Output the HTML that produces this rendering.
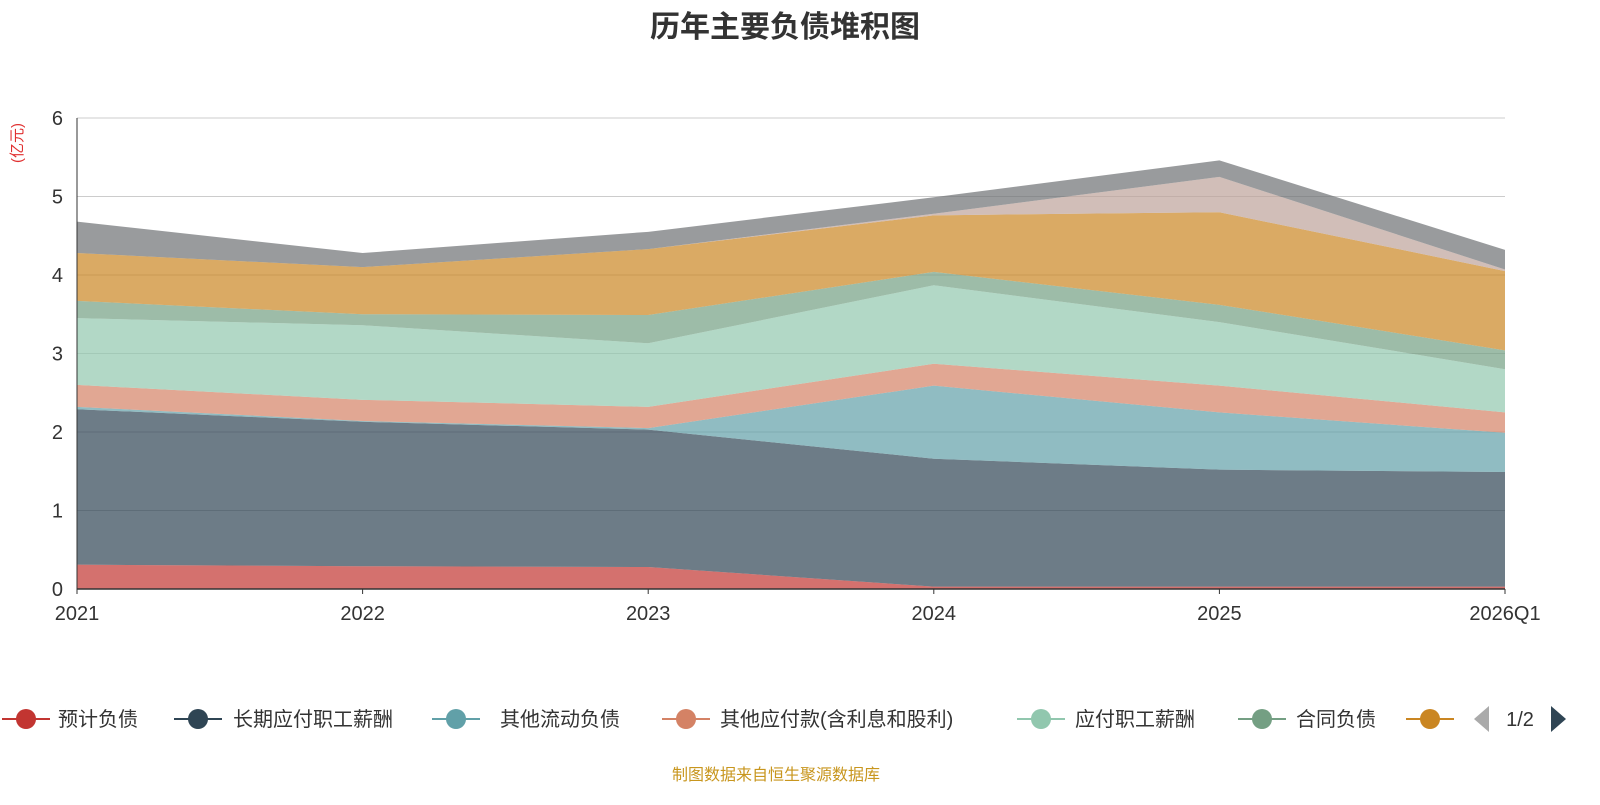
<!DOCTYPE html>
<html><head><meta charset="utf-8">
<style>
html,body{margin:0;padding:0;background:#fff;}
body{width:1600px;height:800px;overflow:hidden;font-family:"Liberation Sans","Noto Sans CJK SC",sans-serif;}
</style></head>
<body>
<svg id="chart" width="1600" height="800" xmlns="http://www.w3.org/2000/svg" font-family="Liberation Sans, Noto Sans CJK SC, sans-serif">
<text x="785" y="37" text-anchor="middle" font-size="30" font-weight="bold" fill="#333">历年主要负债堆积图</text>
<text transform="translate(22,143) rotate(-90)" text-anchor="middle" font-size="15" fill="#e03030">(亿元)</text>
<g id="grid"></g>
<g id="areas"></g>
<g id="axes"></g>
<g id="legend"></g>
<text x="776" y="780" text-anchor="middle" font-size="16" fill="#c8961e">制图数据来自恒生聚源数据库</text>
</svg>
<script>
const categories = ["2021","2022","2023","2024","2025","2026Q1"];
const seriesNames = ["预计负债","长期应付职工薪酬","其他流动负债","其他应付款(含利息和股利)","应付职工薪酬","合同负债","其他负债A","其他负债B","其他负债C"];
const s1 = [0.31,0.29,0.28,0.03,0.03,0.03];
const s2 = [1.98,1.84,1.75,1.63,1.49,1.46];
const s3 = [0.03,0.01,0.02,0.93,0.73,0.50];
const s4 = [0.28,0.27,0.27,0.28,0.34,0.26];
const s5 = [0.85,0.95,0.81,1.00,0.81,0.55];
const s6 = [0.22,0.14,0.36,0.17,0.22,0.24];
const s7 = [0.61,0.60,0.84,0.72,1.18,1.01];
const s8 = [0.00,0.00,0.00,0.02,0.45,0.02];
const s9 = [0.40,0.18,0.22,0.21,0.21,0.25];
const yTicks = [0,1,2,3,4,5,6];
const colors = ["#c23531","#2f4554","#61a0a8","#d48265","#91c7ae","#749f83","#ca8622","#bda29a","#6e7074"];
const series = [s1,s2,s3,s4,s5,s6,s7,s8,s9];
const NS="http://www.w3.org/2000/svg";
const x0=77,x1=1505,y0=589,y1=118;
const xs=i=>x0+(x1-x0)*i/(categories.length-1);
const ys=v=>y0-(y0-y1)*v/6;
function mk(tag,attrs,parent){const e=document.createElementNS(NS,tag);for(const k in attrs)e.setAttribute(k,attrs[k]);parent.appendChild(e);return e;}
const grid=document.getElementById('grid'),areas=document.getElementById('areas'),axes=document.getElementById('axes'),legend=document.getElementById('legend');
yTicks.forEach(t=>{
  if(t>0){const l=mk('line',{x1:x0,x2:x1,y1:ys(t),y2:ys(t),stroke:'#ccc','stroke-width':1},grid);
  
  }
  const tx=mk('text',{x:x0-14,y:ys(t)+7,'text-anchor':'end','font-size':20,fill:'#333'},axes);
  tx.textContent=t;
  
  
});
let base=categories.map(()=>0);
series.forEach((s,k)=>{
  const top=base.map((b,i)=>b+s[i]);
  let d='M'+top.map((v,i)=>xs(i)+','+ys(v)).join(' L');
  for(let i=categories.length-1;i>=0;i--)d+=' L'+xs(i)+','+ys(base[i]);
  d+='Z';
  const p=mk('path',{d:d,fill:colors[k],'fill-opacity':0.7,stroke:'none'},areas);
  
  
  base=top;
});
const ya=mk('line',{x1:x0,x2:x0,y1:y1,y2:y0,stroke:'#333','stroke-width':1},axes);


const xa=mk('line',{x1:x0,x2:x1,y1:y0,y2:y0,stroke:'#333','stroke-width':1.5},axes);


categories.forEach((c,i)=>{
  mk('line',{x1:xs(i),x2:xs(i),y1:y0,y2:y0+5,stroke:'#333'},axes);
  const tx=mk('text',{x:xs(i),y:620,'text-anchor':'middle','font-size':20,fill:'#333'},axes);
  tx.textContent=c;
  
  
});
const leg=[[26,58],[198,233],[456,500],[686,720],[1041,1075],[1262,1296],[1430,null]];
leg.forEach((p,k)=>{
  const g=mk('g',{},legend);
  
  
  mk('line',{x1:p[0]-24,x2:p[0]+24,y1:719,y2:719,stroke:colors[k],'stroke-width':2},g);
  mk('circle',{cx:p[0],cy:719,r:10,fill:colors[k]},g);
  if(p[1]!==null){const t=mk('text',{x:p[1],y:726,'font-size':20,fill:'#333'},g);t.textContent=seriesNames[k];}
});
const pl=mk('path',{d:'M1489,706 L1489,732 L1474,719 Z',fill:'#aaa'},legend);


const pt=mk('text',{x:1520,y:726,'text-anchor':'middle','font-size':20,fill:'#333'},legend);
pt.textContent='1/2';


const pr=mk('path',{d:'M1551,706 L1551,732 L1566,719 Z',fill:'#2f4554'},legend);


</script>
</body></html>
